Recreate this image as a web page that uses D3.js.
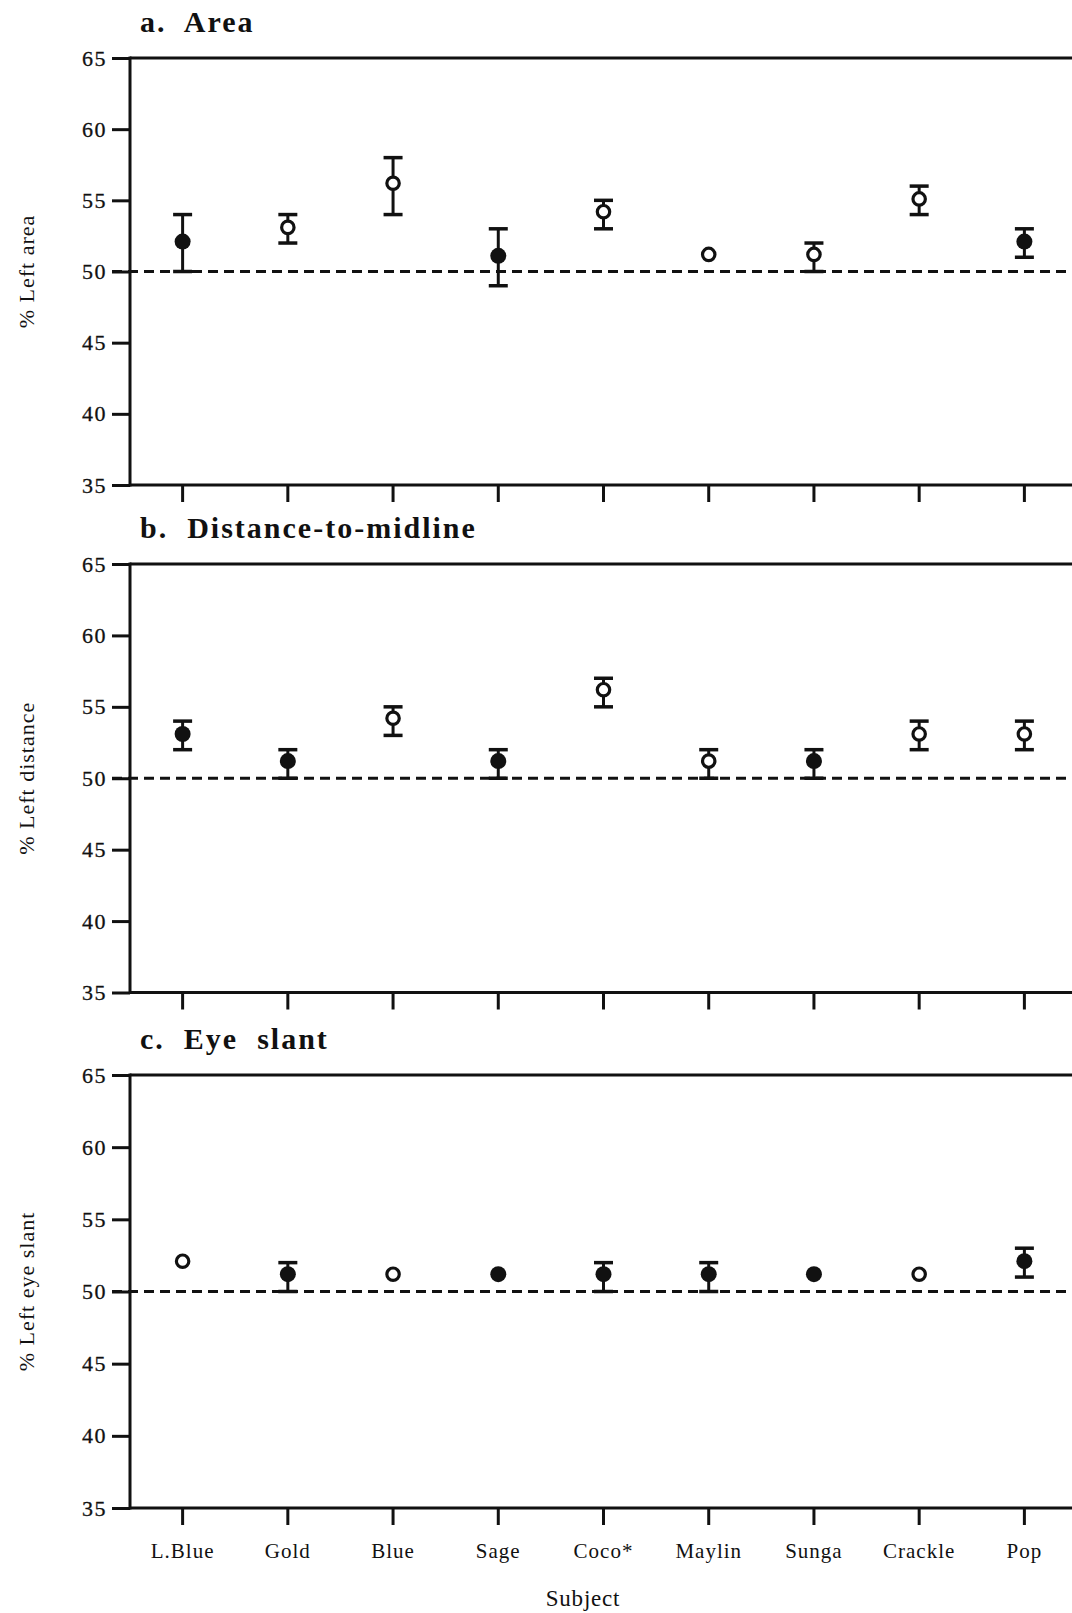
<!DOCTYPE html>
<html>
<head>
<meta charset="utf-8">
<script src="https://cdn.jsdelivr.net/npm/d3@7"></script>
<style>
  body { margin: 0; background: #fff; }
  svg text { font-family: "Liberation Serif", "Times New Roman", serif; fill: #111; }
</style>
</head>
<body>
<div id="chart"></div>
<script>

// subjects along the x axis
var subjects = ["L.Blue", "Gold", "Blue", "Sage", "Coco*", "Maylin", "Sunga", "Crackle", "Pop"];
var yTicks = [35, 40, 45, 50, 55, 60, 65];

// a. Area
var areaMean   = [52.1, 53.1, 56.2, 51.1, 54.2, 51.2, 51.2, 55.1, 52.1];
var areaLo     = [50, 52, 54, 49, 53, null, 50, 54, 51];
var areaHi     = [54, 54, 58, 53, 55, null, 52, 56, 53];
var areaFilled = [true, false, false, true, false, false, false, false, true];

// b. Distance-to-midline
var distMean   = [53.1, 51.2, 54.2, 51.2, 56.2, 51.2, 51.2, 53.1, 53.1];
var distLo     = [52, 50, 53, 50, 55, 50, 50, 52, 52];
var distHi     = [54, 52, 55, 52, 57, 52, 52, 54, 54];
var distFilled = [true, true, false, true, false, false, true, false, false];

// c. Eye slant
var slantMean   = [52.1, 51.2, 51.2, 51.2, 51.2, 51.2, 51.2, 51.2, 52.1];
var slantLo     = [null, 50, null, null, 50, 50, null, null, 51];
var slantHi     = [null, 52, null, null, 52, 52, null, null, 53];
var slantFilled = [false, true, false, true, true, true, true, false, true];

function main(){

	var width = 1072,
		height = 1613;

	var axisX = 130,
		rightX = 1072;

	var svg = d3.select("#chart").append("svg")
		.attr("width", width)
		.attr("height", height);

	var x = d3.scaleBand()
		.domain(subjects)
		.range([axisX, 1077])
		.padding(0);

	function rows(mean, lo, hi, filled){
		return subjects.map(function(s, i){
			return { subject: s, mean: mean[i], lo: lo[i], hi: hi[i], filled: filled[i] };
		});
	}

	var panels = [
		{ title: "a.\u00a0 Area", ylabel: "% Left area", top: 58, bottom: 485, data: rows(areaMean, areaLo, areaHi, areaFilled), labels: false },
		{ title: "b.\u00a0 Distance-to-midline", ylabel: "% Left distance", top: 564, bottom: 992.5, data: rows(distMean, distLo, distHi, distFilled), labels: false },
		{ title: "c.\u00a0 Eye\u00a0 slant", ylabel: "% Left eye slant", top: 1075, bottom: 1508, data: rows(slantMean, slantLo, slantHi, slantFilled), labels: true }
	];

	panels.forEach(function(p){

		var y = d3.scaleLinear()
			.domain([35, 65])
			.range([p.bottom, p.top]);

		var g = svg.append("g");

		// title
		g.append("text")
			.attr("x", 140)
			.attr("y", p.top - 26)
			.attr("font-size", 30)
			.attr("font-weight", "bold")
			.attr("letter-spacing", 2)
			.text(p.title);

		// y label
		g.append("text")
			.attr("transform", "translate(34," + ((p.top + p.bottom) / 2) + ") rotate(-90)")
			.attr("text-anchor", "middle")
			.attr("font-size", 22)
			.attr("letter-spacing", 1)
			.text(p.ylabel);

		// left axis
		var yAxis = d3.axisLeft(y)
			.tickValues(yTicks)
			.tickSize(18)
			.tickPadding(5)
			.tickFormat(d3.format("d"));

		var ya = g.append("g")
			.attr("transform", "translate(" + axisX + ",0)")
			.call(yAxis);
		ya.select(".domain").remove();
		ya.selectAll("line").attr("stroke", "#111").attr("stroke-width", 3);
		ya.selectAll("text")
			.attr("font-size", 22)
			.attr("letter-spacing", 1.5)
			.attr("stroke", "#111")
			.attr("stroke-width", 0.3)
			.attr("fill", "#111");

		g.append("line")
			.attr("x1", axisX).attr("x2", axisX)
			.attr("y1", y(65) - 1.5).attr("y2", y(35) + 1.5)
			.attr("stroke", "#111").attr("stroke-width", 3);

		// top and bottom frame lines
		[65, 35].forEach(function(v){
			g.append("line")
				.attr("x1", axisX).attr("x2", rightX)
				.attr("y1", y(v)).attr("y2", y(v))
				.attr("stroke", "#111").attr("stroke-width", 3);
		});

		// bottom axis ticks
		var xAxis = d3.axisBottom(x)
			.tickSize(17)
			.tickPadding(18)
			.tickSizeOuter(0);
		if (!p.labels) xAxis.tickFormat("");

		var xa = g.append("g")
			.attr("transform", "translate(0," + y(35) + ")")
			.call(xAxis);
		xa.select(".domain").remove();
		xa.selectAll("line").attr("stroke", "#111").attr("stroke-width", 3);
		xa.selectAll("text")
			.attr("font-size", 21)
			.attr("letter-spacing", 1)
			.attr("fill", "#111");

		// 50% reference line
		g.append("line")
			.attr("x1", 112).attr("x2", rightX)
			.attr("y1", y(50)).attr("y2", y(50))
			.attr("stroke", "#111")
			.attr("stroke-width", 3)
			.attr("stroke-dasharray", "10,6");

		// error bars
		var bars = p.data.filter(function(d){ return d.lo !== null; });
		var cx = function(d){ return x(d.subject) + x.bandwidth() / 2; };

		g.selectAll(".stem").data(bars).enter().append("line")
			.attr("x1", cx).attr("x2", cx)
			.attr("y1", function(d){ return y(d.lo); })
			.attr("y2", function(d){ return y(d.hi); })
			.attr("stroke", "#111").attr("stroke-width", 3);

		["lo", "hi"].forEach(function(k){
			g.selectAll(".cap-" + k).data(bars).enter().append("line")
				.attr("x1", function(d){ return cx(d) - 9.5; })
				.attr("x2", function(d){ return cx(d) + 9.5; })
				.attr("y1", function(d){ return y(d[k]); })
				.attr("y2", function(d){ return y(d[k]); })
				.attr("stroke", "#111").attr("stroke-width", 3.5);
		});

		// points
		g.selectAll(".pt").data(p.data).enter().append("circle")
			.attr("cx", cx)
			.attr("cy", function(d){ return y(d.mean); })
			.attr("r", function(d){ return d.filled ? 8 : 6.2; })
			.attr("fill", function(d){ return d.filled ? "#111" : "#fff"; })
			.attr("stroke", "#111")
			.attr("stroke-width", function(d){ return d.filled ? 0 : 3.2; });
	});

	// x axis title
	svg.append("text")
		.attr("x", 583)
		.attr("y", 1606)
		.attr("text-anchor", "middle")
		.attr("font-size", 23)
		.attr("letter-spacing", 0.8)
		.text("Subject");
}

main();
</script>
</body>
</html>
